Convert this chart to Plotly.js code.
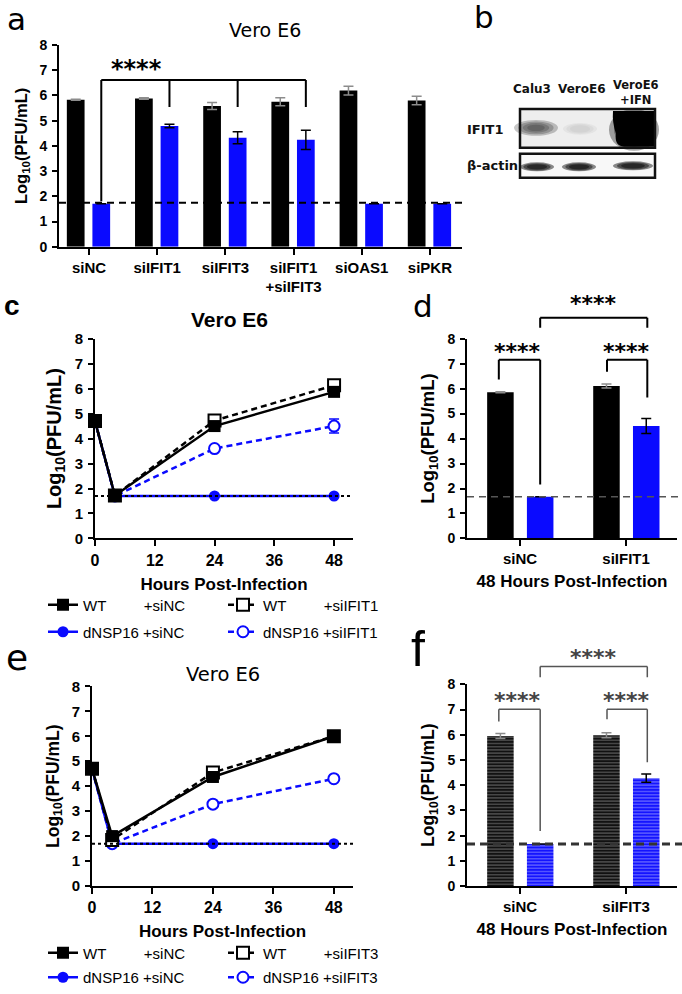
<!DOCTYPE html>
<html><head><meta charset="utf-8">
<script src="https://cdn.plot.ly/plotly-3.0.1.min.js"></script>
<style>html,body{margin:0;padding:0;background:#fff}#chart{width:682px;height:994px}</style>
</head><body><div id="chart"></div>
<script>
// ---------------- data ----------------
// panel a
const catsA = ['siNC', 'siIFIT1', 'siIFIT3', 'siIFIT1<br>+siIFIT3', 'siOAS1', 'siPKR'];
const wtA = [5.83, 5.88, 5.58, 5.75, 6.19, 5.80];
const wtAErr = [0.02, 0.03, 0.14, 0.16, 0.17, 0.17];
const dnA = [1.7, 4.79, 4.32, 4.24, 1.7, 1.7];
const dnAErr = [0, 0.07, 0.24, 0.38, 0, 0];
const lodA = 1.74;
// panel c
const hours = [0, 4, 24, 48];
const cWtSiNC = [4.7, 1.72, 4.5, 5.87];
const cWtSiNCErr = [0.05, 0.03, 0.06, 0.04];
const cWtSiIFIT1 = [4.7, 1.72, 4.72, 6.13];
const cWtSiIFIT1Err = [0.05, 0.03, 0.07, 0.08];
const cDnSiNC = [4.7, 1.7, 1.7, 1.7];
const cDnSiIFIT1 = [4.7, 1.7, 3.6, 4.5];
const cDnSiIFIT1Err = [0.05, 0, 0.1, 0.28];
const lodC = 1.7;
// panel d
const catsD = ['siNC', 'siIFIT1'];
const wtD = [5.85, 6.1];
const wtDErr = [0.02, 0.08];
const dnD = [1.67, 4.5];
const dnDErr = [0, 0.3];
const lodD = 1.67;
// panel e
const eWtSiNC = [4.7, 2.0, 4.37, 6.0];
const eWtSiNCErr = [0.1, 0.2, 0.08, 0.05];
const eWtSiIFIT3 = [4.7, 1.85, 4.55, 6.0];
const eWtSiIFIT3Err = [0.05, 0.1, 0.08, 0.05];
const eDnSiNC = [4.7, 1.7, 1.7, 1.7];
const eDnSiIFIT3 = [4.7, 1.7, 3.28, 4.3];
const eDnSiIFIT3Err = [0.05, 0, 0.08, 0.08];
const lodE = 1.7;
// panel f
const catsF = ['siNC', 'siIFIT3'];
const wtF = [5.95, 5.98];
const wtFErr = [0.1, 0.1];
const dnF = [1.67, 4.28];
const dnFErr = [0, 0.16];
const lodF = 1.67;
// blot labels
const blotLanes = ['Calu3', 'VeroE6', 'VeroE6<br>+IFN'];
const blotRows = ['IFIT1', 'β-actin'];
const sig = '****';

// ---------------- layout helpers ----------------
const W = 682, H = 994;
const FA = 'Liberation Sans, Arial, sans-serif';
const FD = 'DejaVu Sans, Verdana, sans-serif';
const px = v => v / W, py = v => 1 - v / H;
function mapFor(xPx, xRange, yPx, yRange) {
  return {
    X: v => (xPx[0] + (v - xRange[0]) / (xRange[1] - xRange[0]) * (xPx[1] - xPx[0])) / W,
    Y: v => 1 - (yPx[0] + (v - yRange[0]) / (yRange[1] - yRange[0]) * (yPx[1] - yPx[0])) / H
  };
}
// panel geometry (pixels)
const G = {
  a: {x: [59, 462], xr: [-0.44, 5.47], y: [247, 45]},
  c: {x: [95, 353], xr: [0, 51.8], y: [539, 339]},
  d: {x: [467, 677], xr: [-0.5, 1.48], y: [539, 339]},
  e: {x: [92, 353], xr: [0, 51.8], y: [887, 687]},
  f: {x: [467, 677], xr: [-0.5, 1.48], y: [887, 685]}
};
const M = {};
for (const k in G) M[k] = mapFor(G[k].x, G[k].xr, G[k].y, [0, 8]);
const dom = (g) => ({x: [px(g.x[0]), px(g.x[1])], y: [py(g.y[0]), py(g.y[1])]});

function yax(g, anchor, tickSize, titleSize) {
  return {
    domain: dom(g).y, anchor: anchor, range: [0, 8], tickvals: [0,1,2,3,4,5,6,7,8],
    showline: true, linewidth: 2, linecolor: 'black', ticks: 'outside', ticklen: 5, tickwidth: 2,
    tickcolor: 'black', showgrid: false, zeroline: false, ticklabelstandoff: 2,
    tickfont: {family: FA, size: tickSize, weight: 'bold', color: 'black'},
    title: {text: 'Log<sub>10</sub>(PFU/mL)', font: {family: FA, size: titleSize, weight: 'bold', color: 'black'}, standoff: 8},
    fixedrange: true
  };
}
function xcat(g, anchor, tickSize, title, titleSize) {
  const o = {
    domain: dom(g).x, anchor: anchor, type: 'category', range: g.xr,
    showline: true, linewidth: 2, linecolor: 'black', ticks: 'outside', ticklen: 6, tickwidth: 2,
    tickcolor: 'black', showgrid: false, zeroline: false,
    tickfont: {family: FA, size: tickSize, weight: 'bold', color: 'black'}, fixedrange: true
  };
  if (title) o.title = {text: title, font: {family: FA, size: titleSize, weight: 'bold', color: 'black'}, standoff: 9};
  return o;
}
function xnum(g, anchor) {
  return {
    domain: dom(g).x, anchor: anchor, range: g.xr, tickvals: [0, 12, 24, 36, 48],
    showline: true, linewidth: 2, linecolor: 'black', ticks: 'outside', ticklen: 6, tickwidth: 2,
    tickcolor: 'black', showgrid: false, zeroline: false,
    tickfont: {family: FA, size: 16, weight: 'bold', color: 'black'},
    title: {text: 'Hours Post-Infection', font: {family: FA, size: 17, weight: 'bold', color: 'black'}, standoff: 10},
    fixedrange: true
  };
}

// ---------------- traces ----------------
const traces = [];
function barPair(cats, wt, wtErr, dn, dnErr, xa, ya, width, offW, offD, pattern) {
  const wtMarker = {color: 'black', line: {width: 0}};
  const dnMarker = {color: '#0a0aff', line: {width: 0}};
  if (pattern) {
    wtMarker.pattern = {shape: '-', fgcolor: '#6a6a6a', bgcolor: '#111', size: 3.2, solidity: 0.3};
    dnMarker.pattern = {shape: '-', fgcolor: '#7f7fff', bgcolor: '#1414ff', size: 3.2, solidity: 0.3};
  }
  traces.push({type: 'bar', x: cats, y: wt, xaxis: xa, yaxis: ya, width: width, offset: offW,
    marker: wtMarker, showlegend: false, hoverinfo: 'skip',
    error_y: {type: 'data', array: wtErr, visible: true, color: '#8c8c8c', thickness: 1.5, width: 5}});
  traces.push({type: 'bar', x: cats, y: dn, xaxis: xa, yaxis: ya, width: width, offset: offD,
    marker: dnMarker, showlegend: false, hoverinfo: 'skip',
    error_y: {type: 'data', array: dnErr, visible: true, color: 'black', thickness: 1.5, width: 5}});
}
barPair(catsA, wtA, wtAErr, dnA, dnAErr, 'x', 'y', 0.26, -0.325, 0.05, false);
barPair(catsD, wtD, wtDErr, dnD, dnDErr, 'x3', 'y3', 0.25, -0.31, 0.065, false);
barPair(catsF, wtF, wtFErr, dnF, dnFErr, 'x5', 'y5', 0.25, -0.31, 0.065, true);

const NB = '\u00a0';
function lineTrace(y, err, xa, ya, opts) {
  const t = {type: 'scatter', mode: 'lines+markers', x: hours, y: y, xaxis: xa, yaxis: ya,
    cliponaxis: false, hoverinfo: 'skip', name: opts.name, legend: opts.legend, legendrank: opts.rank,
    line: {color: opts.color, width: 2.5, dash: opts.dash || 'solid'},
    marker: {symbol: opts.symbol, size: opts.size, color: opts.fill, line: {color: opts.color, width: opts.open ? 2 : 0}}};
  if (err) t.error_y = {type: 'data', array: err, visible: true, color: opts.color, thickness: 1.5, width: 5};
  return t;
}
const BLUE = '#0a0aff';
function linePanel(xa, ya, wtNC, wtNCErr, wtSi, wtSiErr, dnNC, dnSi, dnSiErr, siName, lg1, lg2) {
  traces.push(lineTrace(dnNC, null, xa, ya, {name: 'dNSP16' + NB + '+siNC', legend: lg2, rank: 1, color: BLUE, symbol: 'circle', size: 11, fill: BLUE}));
  traces.push(lineTrace(dnSi, dnSiErr, xa, ya, {name: 'dNSP16' + NB + '+' + siName, legend: lg2, rank: 2, color: BLUE, dash: '6px,4px', symbol: 'circle', size: 11, fill: 'white', open: true}));
  traces.push(lineTrace(wtSi, wtSiErr, xa, ya, {name: 'WT' + NB.repeat(9) + '+' + siName, legend: lg1, rank: 2, color: 'black', dash: '6px,4px', symbol: 'square', size: 12, fill: 'white', open: true}));
  traces.push(lineTrace(wtNC, wtNCErr, xa, ya, {name: 'WT' + NB.repeat(9) + '+siNC', legend: lg1, rank: 1, color: 'black', symbol: 'square', size: 12, fill: 'black'}));
}
linePanel('x2', 'y2', cWtSiNC, cWtSiNCErr, cWtSiIFIT1, cWtSiIFIT1Err, cDnSiNC, cDnSiIFIT1, cDnSiIFIT1Err, 'siIFIT1', 'legend', 'legend2');
linePanel('x4', 'y4', eWtSiNC, eWtSiNCErr, eWtSiIFIT3, eWtSiIFIT3Err, eDnSiNC, eDnSiIFIT3, eDnSiIFIT3Err, 'siIFIT3', 'legend3', 'legend4');

// ---------------- shapes & annotations ----------------
const shapes = [], ann = [];
function seg(x0, y0, x1, y1, color, width, dash) {
  shapes.push({type: 'line', xref: 'paper', yref: 'paper', x0, y0, x1, y1, line: {color, width, dash: dash || 'solid'}, layer: 'above'});
}
function pathShape(d, color, width, fill) {
  shapes.push({type: 'path', xref: 'paper', yref: 'paper', path: d, line: {color, width}, fillcolor: fill || 'rgba(0,0,0,0)', layer: 'above'});
}
function bracket(m, xs, ytop, legs, color, width) {
  let d = '';
  xs.forEach((x, i) => { d += `M${m.X(x)},${m.Y(legs[i])} L${m.X(x)},${m.Y(ytop)} `; });
  d += `M${m.X(xs[0])},${m.Y(ytop)} L${m.X(xs[xs.length - 1])},${m.Y(ytop)}`;
  pathShape(d, color, width);
}
function text(x, y, t, font, xa, ya) {
  ann.push({xref: 'paper', yref: 'paper', x, y, text: t, showarrow: false, font, xanchor: xa || 'center', yanchor: ya || 'middle'});
}
const starFont = (s, c) => ({family: FD, size: s, weight: 'bold', color: c || 'black'});

// panel a
seg(px(G.a.x[0]), M.a.Y(lodA), px(G.a.x[1]), M.a.Y(lodA), 'black', 2, '7px,5px');
bracket(M.a, [0.18, 1.18, 2.18, 3.18], 6.61, [1.8, 5.54, 5.54, 5.54], 'black', 2);
text(M.a.X(0.7), M.a.Y(7.05), sig, starFont(24));
// panel c/e dotted LOD
seg(px(G.c.x[0]), M.c.Y(lodC), px(G.c.x[1]), M.c.Y(lodC), 'black', 2, 'dot');
seg(px(G.e.x[0]), M.e.Y(lodE), px(G.e.x[1]), M.e.Y(lodE), 'black', 2, 'dot');
// panel d
seg(px(G.d.x[0]), M.d.Y(lodD), px(682), M.d.Y(lodD), '#555', 1.5, '7px,5px');
bracket(M.d, [-0.2, 0.19], 7.16, [6.36, 2.16], 'black', 2);
bracket(M.d, [0.82, 1.2], 7.16, [6.68, 5.64], 'black', 2);
bracket(M.d, [0.19, 1.2], 8.84, [8.44, 8.44], 'black', 2);
text(M.d.X(-0.02), M.d.Y(7.5), sig, starFont(22));
text(M.d.X(1.0), M.d.Y(7.5), sig, starFont(22));
text(M.d.X(0.69), M.d.Y(9.4), sig, starFont(22));
// panel f
seg(px(G.f.x[0]), M.f.Y(lodF), px(682), M.f.Y(lodF), '#333', 3, '8px,5px');
bracket(M.f, [-0.2, 0.19], 7.01, [6.53, 2.18], '#555', 1.5);
bracket(M.f, [0.82, 1.2], 7.01, [6.61, 4.91], '#555', 1.5);
bracket(M.f, [0.19, 1.2], 8.71, [8.28, 8.28], '#555', 1.5);
text(M.f.X(-0.02), M.f.Y(7.35), sig, starFont(22, '#444'));
text(M.f.X(1.0), M.f.Y(7.35), sig, starFont(22, '#444'));
text(M.f.X(0.69), M.f.Y(9.05), sig, starFont(22, '#444'));

// titles & panel letters
text(px(265), py(30), 'Vero E6', {family: FD, size: 19, color: 'black'});
text(px(230), py(320), 'Vero E6', {family: FA, size: 21, weight: 'bold', color: 'black'});
text(px(223), py(675), 'Vero E6', {family: FD, size: 19.5, color: 'black'});
text(px(16), py(19), 'a', {family: FD, size: 31, color: 'black'});
text(px(484), py(17), 'b', {family: FD, size: 31, color: 'black'});
text(px(12), py(306), 'c', {family: FA, size: 28, weight: 'bold', color: 'black'});
text(px(423), py(306), 'd', {family: FD, size: 31, color: 'black'});
text(px(17), py(658), 'e', {family: FD, size: 36, color: 'black'});
text(px(418), py(650), 'f', {family: FA, size: 50, color: 'black'});

// panel b western blot
const blotFont = {family: FD, size: 12, weight: 'bold', color: '#111'};
text(px(532), py(89), blotLanes[0], blotFont);
text(px(581), py(89), blotLanes[1], blotFont);
ann.push({xref: 'paper', yref: 'paper', x: px(636), y: py(108), text: blotLanes[2], showarrow: false,
  font: {family: FD, size: 11.5, weight: 'bold', color: '#111'}, xanchor: 'center', yanchor: 'bottom', align: 'center', borderpad: 0});
text(px(465), py(130), blotRows[0], {family: FD, size: 13, weight: 'bold', color: '#111'}, 'left');
text(px(465), py(166), blotRows[1], {family: FD, size: 13, weight: 'bold', color: '#111'}, 'left');
shapes.push({type: 'rect', xref: 'paper', yref: 'paper', x0: px(520), x1: px(655), y0: py(148), y1: py(109), fillcolor: '#eeeeee', line: {width: 0}, layer: 'above'});
shapes.push({type: 'rect', xref: 'paper', yref: 'paper', x0: px(520), x1: px(655), y0: py(178), y1: py(154), fillcolor: '#f8f8f8', line: {width: 0}, layer: 'above'});
function band(cx, cy, w, h, color, op, n) {
  for (let i = 0; i < n; i++) {
    const f = 1 - i * 0.2;
    shapes.push({type: 'circle', xref: 'paper', yref: 'paper', x0: px(cx - w * f / 2), x1: px(cx + w * f / 2),
      y0: py(cy + h * f / 2), y1: py(cy - h * f / 2), fillcolor: color, opacity: op, line: {width: 0}, layer: 'above'});
  }
}
band(536, 128, 44, 16, '#333', 0.28, 4);
band(580, 129, 34, 12, '#999', 0.12, 3);
band(634, 130, 50, 42, '#000', 0.35, 2);
pathShape(`M${px(613)},${py(111)} L${px(655)},${py(111)} L${px(655)},${py(147)} L${px(624)},${py(147)} Q${px(614)},${py(146)} ${px(616)},${py(134)} Q${px(612)},${py(122)} ${px(613)},${py(111)} Z`, '#000', 0, '#000');
band(537, 167, 34, 9, '#000', 0.45, 3);
band(579, 167, 34, 9, '#000', 0.45, 3);
band(633, 166, 40, 9, '#000', 0.45, 3);
shapes.push({type: 'rect', xref: 'paper', yref: 'paper', x0: px(520), x1: px(655), y0: py(148), y1: py(109), line: {color: '#111', width: 2.5}, layer: 'above'});
shapes.push({type: 'rect', xref: 'paper', yref: 'paper', x0: px(520), x1: px(655), y0: py(178), y1: py(154), line: {color: '#111', width: 2.5}, layer: 'above'});

// legends
function lg(yPx) {
  return {x: px(43), xanchor: 'left', y: py(yPx), yanchor: 'middle', orientation: 'h', entrywidth: 135, entrywidthmode: 'pixels',
    font: {family: FA, size: 15, color: 'black'}, bgcolor: 'rgba(0,0,0,0)', borderwidth: 0, itemwidth: 30, traceorder: 'normal',
    itemclick: false, itemdoubleclick: false};
}

const layout = {
  width: W, height: H, margin: {l: 0, r: 0, t: 0, b: 0}, autosize: false,
  paper_bgcolor: 'white', plot_bgcolor: 'rgba(0,0,0,0)', barmode: 'overlay', showlegend: true,
  font: {family: FA, color: 'black'},
  xaxis: xcat(G.a, 'y', 15),
  yaxis: yax(G.a, 'x', 14, 16.5),
  xaxis2: xnum(G.c, 'y2'),
  yaxis2: yax(G.c, 'x2', 15, 20),
  xaxis3: xcat(G.d, 'y3', 15, '48 Hours Post-Infection', 17),
  yaxis3: yax(G.d, 'x3', 14, 18.5),
  xaxis4: xnum(G.e, 'y4'),
  yaxis4: yax(G.e, 'x4', 15, 17.5),
  xaxis5: xcat(G.f, 'y5', 15, '48 Hours Post-Infection', 17),
  yaxis5: yax(G.f, 'x5', 14, 17.5),
  legend: lg(605), legend2: lg(632), legend3: lg(953), legend4: lg(978),
  shapes: shapes, annotations: ann
};
Plotly.newPlot('chart', traces, layout, {staticPlot: true, displayModeBar: false});
</script></body></html>
